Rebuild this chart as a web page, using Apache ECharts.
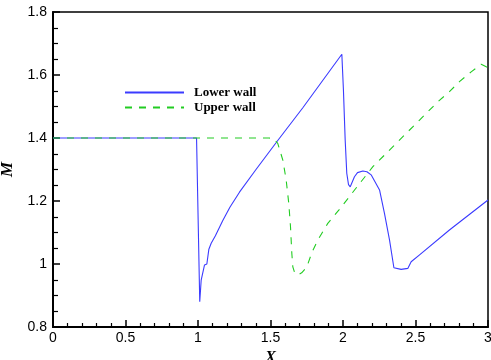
<!DOCTYPE html>
<html>
<head>
<meta charset="utf-8">
<script src="https://cdn.jsdelivr.net/npm/echarts@6/dist/echarts.min.js"></script>
<style>
  html, body { margin: 0; padding: 0; background: #fff; }
  #chart { width: 491px; height: 360px; }
</style>
</head>
<body>
<div id="chart"></div>
<script>
// Mach number along the walls
var lowerX = [0, 0.99, 1.012, 1.022, 1.045, 1.061, 1.075, 1.091, 1.12, 1.171, 1.22, 1.286, 1.4,
  1.55, 1.723, 1.992, 2.003, 2.015, 2.026, 2.038, 2.05, 2.079, 2.1, 2.137, 2.165, 2.194, 2.252,
  2.286, 2.321, 2.351, 2.401, 2.447, 2.47, 2.528, 2.734, 3.0]
var lowerM = [1.4, 1.4, 0.88, 0.949, 0.997, 1.0, 1.047, 1.066, 1.09, 1.138, 1.18, 1.228, 1.3,
  1.392, 1.496, 1.666, 1.552, 1.394, 1.288, 1.252, 1.245, 1.277, 1.29, 1.295, 1.293, 1.283, 1.235,
  1.161, 1.076, 0.988, 0.983, 0.986, 1.007, 1.029, 1.108, 1.203]

var upperX = [0, 1.49, 1.52, 1.55, 1.585, 1.608, 1.626, 1.638, 1.647, 1.654, 1.668, 1.688, 1.715,
  1.75, 1.785, 1.826, 1.895, 1.971, 2.206, 2.528, 2.654, 2.734, 2.803, 2.884, 2.953, 2.988, 3.0]
var upperM = [1.4, 1.4, 1.398, 1.383, 1.33, 1.267, 1.193, 1.118, 1.034, 0.991, 0.97, 0.965, 0.972,
  0.99, 1.036, 1.076, 1.129, 1.171, 1.309, 1.457, 1.515, 1.547, 1.579, 1.61, 1.634, 1.626, 1.624]

var xTicks = [0, 3, 0.5]
var yTicks = [0.8, 1.8, 0.2]

function pairs(xs, ys) {
  return xs.map(function (x, i) { return [x, ys[i]] })
}

var myChart = echarts.init(document.getElementById('chart'))
var tickFont = { color: '#000', fontSize: 14, fontFamily: 'Liberation Sans, Arial, sans-serif' }
var option = {
  animation: false,
  grid: {
    left: 53,
    right: 3,
    top: 12,
    bottom: 33,
    outerBoundsMode: 'none',
    show: true,
    borderColor: '#000',
    borderWidth: 1.5,
  },
  legend: {
    orient: 'vertical',
    left: 124,
    top: 86,
    padding: 0,
    itemWidth: 59,
    itemHeight: 14,
    itemGap: 2,
    itemStyle: { opacity: 0 }, // hide the symbol, keep the line
    lineStyle: { opacity: 1 },
    textStyle: {
      color: '#000',
      fontSize: 13,
      fontWeight: 'bold',
      fontFamily: 'Liberation Serif, Times New Roman, serif',
      padding: [0, 0, 0, 5],
    },
    data: ['Lower wall', 'Upper wall'],
  },
  xAxis: {
    type: 'value',
    min: xTicks[0],
    max: xTicks[1],
    interval: xTicks[2],
    name: 'X',
    nameLocation: 'middle',
    nameGap: 21,
    nameTextStyle: {
      color: '#000',
      fontSize: 16,
      fontWeight: 'bold',
      fontStyle: 'italic',
      fontFamily: 'Liberation Serif, Times New Roman, serif',
    },
    axisLine: { lineStyle: { color: '#000', width: 2 } },
    axisTick: { inside: true, length: 7, lineStyle: { color: '#000', width: 1.5 } },
    minorTick: { show: true, splitNumber: 5, length: 4, lineStyle: { color: '#000', width: 1.2 } },
    axisLabel: Object.assign({ margin: 4 }, tickFont),
    splitLine: { show: false },
  },
  yAxis: {
    type: 'value',
    min: yTicks[0],
    max: yTicks[1],
    interval: yTicks[2],
    name: 'M',
    nameLocation: 'middle',
    nameGap: 37,
    nameTextStyle: {
      color: '#000',
      fontSize: 17,
      fontWeight: 'bold',
      fontStyle: 'italic',
      fontFamily: 'Liberation Serif, Times New Roman, serif',
    },
    axisLine: { show: true, lineStyle: { color: '#000', width: 2 } },
    axisTick: { show: true, inside: true, length: 7, lineStyle: { color: '#000', width: 1.5 } },
    minorTick: { show: true, splitNumber: 4, length: 5, lineStyle: { color: '#000', width: 1.2 } },
    axisLabel: Object.assign({ margin: 6 }, tickFont),
    splitLine: { show: false },
  },
  series: [
    {
      name: 'Lower wall',
      type: 'line',
      symbol: 'none',
      color: '#3b3bff',
      lineStyle: { color: '#3b3bff', width: 1.1 },
      data: pairs(lowerX, lowerM),
    },
    {
      name: 'Upper wall',
      type: 'line',
      symbol: 'none',
      color: '#22cc22',
      lineStyle: { color: '#22cc22', width: 1.1, type: [7, 7] },
      data: pairs(upperX, upperM),
    },
  ],
}
myChart.setOption(option)
</script>
</body>
</html>
